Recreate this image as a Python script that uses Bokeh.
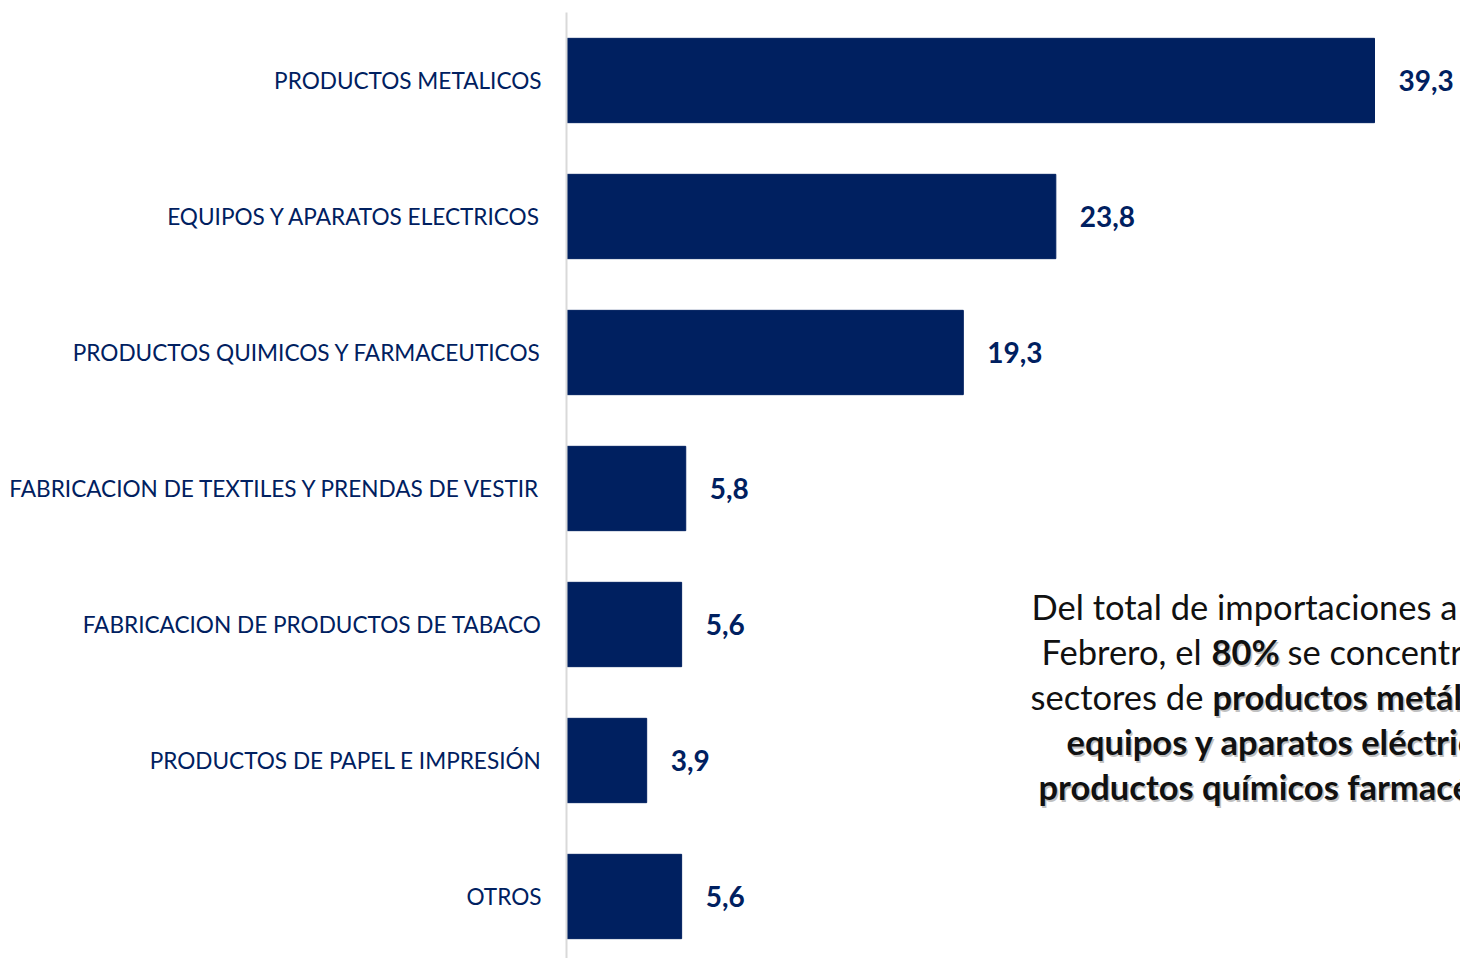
from bokeh.plotting import figure
from bokeh.models import Range1d, FixedTicker, Label
from bokeh.core.properties import value
from bokeh.embed import file_html
from bokeh.resources import INLINE

categories = [
    "PRODUCTOS METALICOS",
    "EQUIPOS Y APARATOS ELECTRICOS",
    "PRODUCTOS QUIMICOS Y FARMACEUTICOS",
    "FABRICACION DE TEXTILES Y PRENDAS DE VESTIR",
    "FABRICACION DE PRODUCTOS DE TABACO",
    "PRODUCTOS DE PAPEL E IMPRESIÓN",
    "OTROS",
]
values = [39.3, 23.8, 19.3, 5.8, 5.6, 3.9, 5.6]
value_labels = [f"{v:.1f}".replace(".", ",") for v in values]

NAVY = "#002060"
FONT = "Lato"

W, H = 1460, 958
TOP = 12
LEFT = 566
frame_w = W - LEFT
frame_h = H - TOP
unit_px = 136.0
px_per_x = 20.56

x_end = frame_w / px_per_x
y_top = -0.5
y_bottom = y_top + frame_h / unit_px

p = figure(width=W, height=H, output_backend="svg", toolbar_location=None,
           x_range=Range1d(0, x_end), y_range=Range1d(y_bottom, y_top),
           min_border_left=LEFT, min_border_top=TOP, min_border_right=0,
           min_border_bottom=0)
p.outline_line_color = None
p.xgrid.visible = False
p.ygrid.visible = False
p.xaxis.visible = False

ys = list(range(len(categories)))
p.hbar(y=ys, right=values, left=0, height=0.62, fill_color=NAVY, line_color=NAVY)

p.text(x=values, y=ys, text=value_labels, x_offset=24, text_align="left",
       text_baseline="middle", text_font=value(FONT), text_font_style="bold",
       text_font_size="28px", text_color=NAVY)

ax = p.yaxis[0]
ax.ticker = FixedTicker(ticks=ys)
ax.major_label_overrides = {i: c for i, c in enumerate(categories)}
ax.major_tick_line_color = None
ax.minor_tick_line_color = None
ax.major_tick_out = 0
ax.major_tick_in = 0
ax.major_label_standoff = 25
ax.axis_line_color = "#d9d9d9"
ax.axis_line_width = 2
ax.major_label_text_font = FONT
ax.major_label_text_font_size = "22.6px"
ax.major_label_text_color = NAVY

def px_x(px):
    return (px - LEFT) / px_per_x

def px_y(py):
    return y_top + (py - TOP) / unit_px

FS = "34.5px"
# annotation text (x start px, baseline px, text, bold)
segments = [
    (1031, 606, "Del total de importaciones a", False),
    (1041, 651, "Febrero, el ", False),
    (1211, 651, "80%", True),
    (1287, 651, "se concentra en los", False),
    (1030, 696, "sectores de ", False),
    (1212, 696, "productos metálicos,", True),
    (1066, 741, "equipos y aparatos eléctricos y", True),
    (1038, 786, "productos químicos farmacéuticos.", True),
]
for sx, sy, txt, bold in segments:
    if bold:
        p.add_layout(Label(x=px_x(sx), y=px_y(sy), text=txt, x_offset=1.5, y_offset=-1.5,
                           text_font=FONT, text_font_style="bold", text_font_size=FS,
                           text_color="#a6a6a6", text_alpha=0.7, text_baseline="alphabetic",
                           text_align="left"))
    p.add_layout(Label(x=px_x(sx), y=px_y(sy), text=txt,
                       text_font=FONT, text_font_style="bold" if bold else "normal",
                       text_font_size=FS, text_color="#111111",
                       text_baseline="alphabetic", text_align="left"))

open("out.html", "w").write(file_html(p, INLINE))
